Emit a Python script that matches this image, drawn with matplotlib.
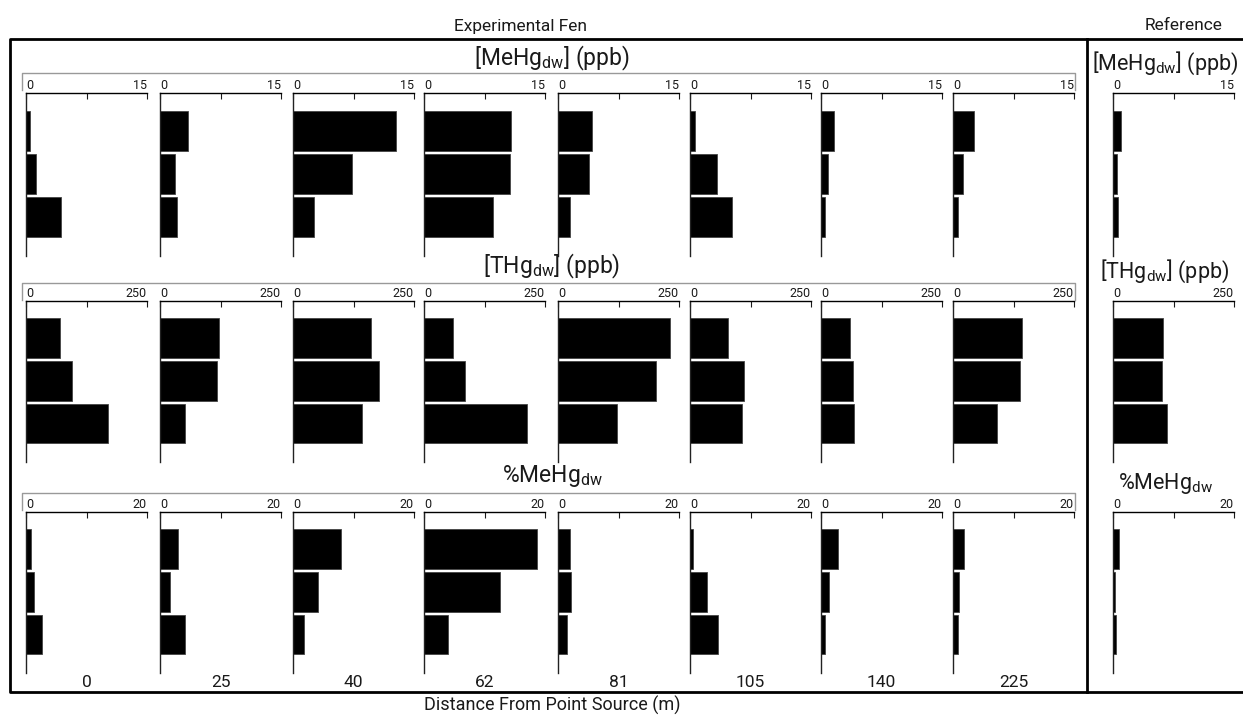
import matplotlib
matplotlib.use("Agg")
import matplotlib.pyplot as plt
from matplotlib.lines import Line2D

plt.rcParams['font.family'] = ['Roboto', 'DejaVu Sans']
plt.rcParams['font.weight'] = 'normal'
plt.rcParams['mathtext.fontset'] = 'custom'
plt.rcParams['mathtext.rm'] = 'Roboto'
plt.rcParams['text.color'] = '#1a1a1a'

# ---------------- data ----------------
distances = ['0', '25', '40', '62', '81', '105', '140', '225']
layers = [0, 1, 2]  # three depth layers (top to bottom)

mehg_fen = [[0.5, 1.25, 4.4], [3.5, 1.9, 2.1], [12.8, 7.3, 2.6], [10.8, 10.6, 8.5],
            [4.25, 3.8, 1.5], [0.6, 3.4, 5.2], [1.65, 0.87, 0.45], [2.6, 1.2, 0.66]]
mehg_ref = [0.95, 0.54, 0.66]

thg_fen = [[70, 95, 169], [122, 118, 52], [162, 178, 142], [59, 85, 212],
           [231, 202, 122], [78, 111, 107], [59, 66, 68], [143, 139, 90]]
thg_ref = [103, 101, 112]

pct_fen = [[0.77, 1.3, 2.6], [2.9, 1.7, 4.1], [7.9, 4.1, 1.8], [18.6, 12.5, 4.0],
           [2.0, 2.1, 1.5], [0.5, 2.8, 4.6], [2.8, 1.3, 0.66], [1.8, 1.0, 0.8]]
pct_ref = [0.94, 0.39, 0.5]

row_titles = [r'[MeHg$_{\mathregular{dw}}$] (ppb)', r'[THg$_{\mathregular{dw}}$] (ppb)',
              r'%MeHg$_{\mathregular{dw}}$']
axis_max = [15, 250, 20]

# ---------------- layout (pixels) ----------------
W, H = 1243, 715
fig = plt.figure(figsize=(W / 100, H / 100), dpi=100)


def fx(x):
    return x / W


def fy(y):
    return 1 - y / H


col_x0 = [26, 160, 293, 424, 558, 690, 821, 953]
ref_x0 = 1113
ax_w = 121
row_top = [93, 301, 512]
row_bot = [256, 462, 673]
title_y_fen = [58, 266, 476]
title_y_ref = [63, 271, 483]
bracket_y = [73, 283, 493]

fen_data = [mehg_fen, thg_fen, pct_fen]
ref_data = [mehg_ref, thg_ref, pct_ref]


def style_axis(ax, vals, vmax):
    ax.barh(layers, vals, height=0.93, color='black', edgecolor='#444444', linewidth=0.6)
    ax.set_xlim(0, vmax)
    ax.set_ylim(2.9, -0.87)
    for s in ['right', 'bottom']:
        ax.spines[s].set_visible(False)
    ax.spines['top'].set_linewidth(1.0)
    ax.spines['left'].set_linewidth(1.0)
    ax.spines['left'].set_color('#222222')
    ax.xaxis.tick_top()
    ax.set_xticks([0, vmax / 2, vmax])
    ax.set_xticklabels(['0', '', str(vmax)])
    ax.tick_params(axis='x', direction='in', length=4, width=0.8, pad=1,
                   labelsize=9, colors='#1a1a1a')
    labs = ax.get_xticklabels()
    labs[0].set_ha('left')
    labs[2].set_ha('right')
    ax.set_yticks([])
    ax.patch.set_alpha(0)


for r in range(3):
    h = row_bot[r] - row_top[r]
    for c in range(8):
        ax = fig.add_axes([fx(col_x0[c]), fy(row_bot[r]), ax_w / W, h / H])
        style_axis(ax, fen_data[r][c], axis_max[r])
        if r == 2:
            ax.text(0.5, -0.012, distances[c], transform=ax.transAxes, ha='center',
                    va='top', fontsize=12.5)
    ax = fig.add_axes([fx(ref_x0), fy(row_bot[r]), ax_w / W, h / H])
    style_axis(ax, ref_data[r], axis_max[r])

    # row titles
    fig.text(fx(552), fy(title_y_fen[r]), row_titles[r], ha='center', va='center',
             fontsize=16.5)
    fig.text(fx(1165), fy(title_y_ref[r]), row_titles[r], ha='center', va='center',
             fontsize=15.5)
    # gray bracket under title
    yb = bracket_y[r]
    fig.add_artist(Line2D([fx(22), fx(22), fx(1075), fx(1075)],
                          [fy(yb + 17), fy(yb), fy(yb), fy(yb + 17)],
                          color='#999999', lw=1.0))

# outer frame
frame_kw = dict(color='black', lw=2.0)
fig.add_artist(Line2D([fx(1243), fx(10), fx(10), fx(1243)],
                      [fy(39), fy(39), fy(692), fy(692)], **frame_kw))
fig.add_artist(Line2D([fx(1087), fx(1087)], [fy(39), fy(692)], **frame_kw))

fig.text(fx(520), fy(26), 'Experimental Fen', ha='center', va='center', fontsize=12.5)
fig.text(fx(1184), fy(26), 'Reference', ha='center', va='center', fontsize=12.5)
fig.text(fx(552), fy(705), 'Distance From Point Source (m)', ha='center', va='center',
         fontsize=13)

fig.savefig('out.png', dpi=100)
